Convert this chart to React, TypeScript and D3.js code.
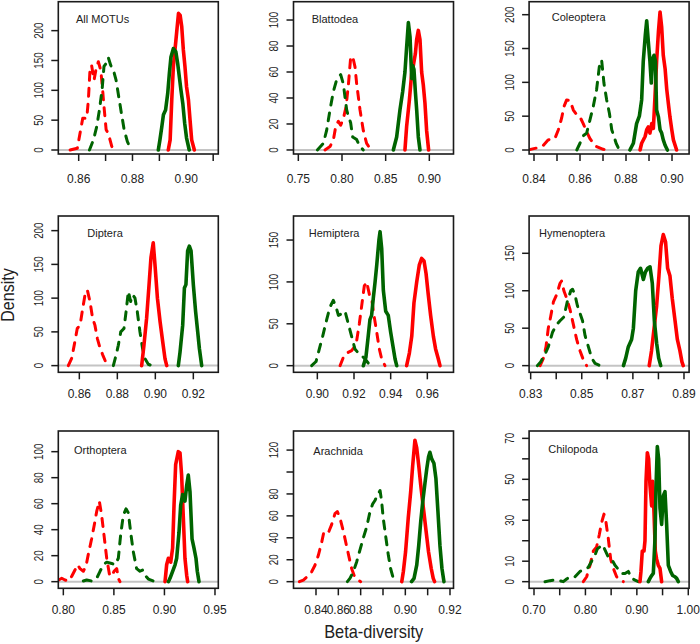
import React from "react";
import * as d3 from "d3";

type Pt = [number, number];

// ---------- DATA (x = beta-diversity, y = density) ----------
const panelNames = ["All MOTUs", "Blattodea", "Coleoptera", "Diptera", "Hemiptera", "Hymenoptera", "Orthoptera", "Arachnida", "Chilopoda"];

// series order in every panel: red dashed, green dashed, red solid, green solid
const allMotusCurves: Pt[][] = [
  [[0.8568,0],[0.8595,3],[0.8605,28],[0.8615,53],[0.8630,53],[0.8636,84],[0.8642,134],[0.8648,142],[0.8657,117],[0.8664,134],[0.8673,148],[0.8682,134],[0.8688,106],[0.8694,73],[0.8702,34],[0.8710,28],[0.8723,6],[0.8735,0]],
  [[0.8640,0],[0.8655,17],[0.8667,39],[0.8677,67],[0.8687,101],[0.8694,140],[0.8702,145],[0.8710,155],[0.8719,142],[0.8729,134],[0.8739,117],[0.8749,89],[0.8759,61],[0.8769,34],[0.8781,14],[0.8793,3],[0.8801,0]],
  [[0.8933,0],[0.8940,17],[0.8946,84],[0.8952,140],[0.8958,168],[0.8964,196],[0.8971,229],[0.8977,226],[0.8983,207],[0.8989,168],[0.8995,140],[0.9001,106],[0.9008,84],[0.9014,50],[0.9020,17],[0.9030,0]],
  [[0.8896,0],[0.8902,17],[0.8909,39],[0.8915,59],[0.8923,67],[0.8931,95],[0.8937,128],[0.8943,156],[0.8952,170],[0.8961,165],[0.8968,145],[0.8974,123],[0.8980,101],[0.8987,78],[0.8994,45],[0.9001,20],[0.9011,0]],
];
const blattodeaCurves: Pt[][] = [
  [[0.7805,0],[0.7863,2.6],[0.7901,7.7],[0.7931,19],[0.7958,22],[0.7985,19],[0.8015,24],[0.8046,33],[0.8073,50],[0.8099,71],[0.8122,72],[0.8149,64],[0.8168,51],[0.8206,31],[0.8244,15],[0.8282,5],[0.8321,1.3],[0.8359,0]],
  [[0.7718,0],[0.7786,5],[0.7824,15],[0.7863,31],[0.7901,45],[0.7939,54],[0.7985,58],[0.8015,51],[0.8034,41],[0.8053,31],[0.8073,26],[0.8099,21],[0.8122,10],[0.8168,8],[0.8206,2.6],[0.8244,0]],
  [[0.8721,0],[0.8740,18],[0.8771,38],[0.8798,59],[0.8817,65],[0.8840,74],[0.8855,85],[0.8874,92],[0.8893,85],[0.8912,60],[0.8931,50],[0.8950,36],[0.8969,15],[0.8992,0]],
  [[0.8588,0],[0.8626,10],[0.8664,31],[0.8695,45],[0.8721,60],[0.8740,79],[0.8760,98],[0.8779,87],[0.8798,55],[0.8809,65],[0.8824,62],[0.8840,45],[0.8855,31],[0.8874,10],[0.8893,0]],
];
const coleopteraCurves: Pt[][] = [
  [[0.8375,0],[0.8412,3],[0.8441,7],[0.8462,15],[0.8491,17],[0.8506,30],[0.8520,47],[0.8530,64],[0.8542,74],[0.8557,73],[0.8571,59],[0.8586,52],[0.8600,49],[0.8614,39],[0.8629,27],[0.8643,17],[0.8658,10],[0.8672,5],[0.8701,1],[0.8730,0]],
  [[0.8586,0],[0.8600,10],[0.8614,21],[0.8629,25],[0.8643,44],[0.8658,65],[0.8672,89],[0.8684,123],[0.8694,133],[0.8704,99],[0.8716,74],[0.8728,54],[0.8738,30],[0.8748,20],[0.8757,10],[0.8771,0]],
  [[0.8861,0],[0.8868,10],[0.8883,20],[0.8890,30],[0.8897,34],[0.8904,25],[0.8912,39],[0.8919,32],[0.8926,79],[0.8933,131],[0.8941,175],[0.8948,204],[0.8955,182],[0.8962,140],[0.8970,120],[0.8977,90],[0.8984,69],[0.8991,49],[0.8999,30],[0.9006,15],[0.9020,0]],
  [[0.8817,0],[0.8832,10],[0.8846,39],[0.8858,50],[0.8868,74],[0.8875,131],[0.8884,170],[0.8890,191],[0.8897,160],[0.8904,131],[0.8910,99],[0.8916,135],[0.8922,140],[0.8928,131],[0.8933,59],[0.8941,49],[0.8948,30],[0.8955,25],[0.8962,15],[0.8970,7],[0.8980,0]],
];
const dipteraCurves: Pt[][] = [
  [[0.8542,0],[0.8560,11],[0.8577,36],[0.8589,55],[0.8604,60],[0.8618,85],[0.8630,105],[0.8642,112],[0.8656,95],[0.8670,70],[0.8682,60],[0.8695,40],[0.8709,26],[0.8723,16],[0.8735,8],[0.8747,0]],
  [[0.8779,0],[0.8793,15],[0.8805,30],[0.8818,50],[0.8835,55],[0.8846,80],[0.8858,110],[0.8870,95],[0.8881,105],[0.8893,100],[0.8905,80],[0.8919,50],[0.8933,25],[0.8946,10],[0.8963,2],[0.8981,0]],
  [[0.8928,0],[0.8940,30],[0.8954,70],[0.8967,120],[0.8977,160],[0.8989,182],[0.8998,150],[0.9011,100],[0.9025,65],[0.9039,35],[0.9051,10],[0.9060,0]],
  [[0.9121,0],[0.9130,20],[0.9144,60],[0.9153,115],[0.9161,120],[0.9170,170],[0.9179,177],[0.9188,170],[0.9200,120],[0.9212,80],[0.9223,50],[0.9232,25],[0.9244,0]],
];
const hemipteraCurves: Pt[][] = [
  [[0.9124,0],[0.9142,10],[0.9160,15],[0.9187,18],[0.9211,25],[0.9229,50],[0.9244,75],[0.9256,95],[0.9269,100],[0.9284,85],[0.9296,80],[0.9309,60],[0.9324,40],[0.9338,20],[0.9351,8],[0.9369,0]],
  [[0.8969,0],[0.8993,5],[0.9011,20],[0.9029,35],[0.9051,55],[0.9069,70],[0.9087,78],[0.9102,70],[0.9115,60],[0.9133,62],[0.9151,65],[0.9169,50],[0.9187,35],[0.9205,20],[0.9224,15],[0.9242,12],[0.9260,8],[0.9278,3],[0.9296,0]],
  [[0.9487,0],[0.9502,15],[0.9515,35],[0.9527,75],[0.9542,100],[0.9556,120],[0.9569,128],[0.9582,125],[0.9593,110],[0.9605,85],[0.9618,60],[0.9633,35],[0.9645,20],[0.9660,8],[0.9669,0]],
  [[0.9251,0],[0.9265,10],[0.9275,30],[0.9287,55],[0.9296,60],[0.9305,80],[0.9315,100],[0.9324,120],[0.9336,150],[0.9342,160],[0.9351,140],[0.9360,90],[0.9373,65],[0.9387,60],[0.9400,40],[0.9415,20],[0.9424,8],[0.9433,0]],
];
const hymenopteraCurves: Pt[][] = [
  [[0.8337,0],[0.8350,10],[0.8360,25],[0.8369,50],[0.8378,65],[0.8389,85],[0.8402,95],[0.8415,110],[0.8421,113],[0.8430,100],[0.8441,90],[0.8454,75],[0.8467,55],[0.8480,35],[0.8493,20],[0.8506,8],[0.8519,0]],
  [[0.8326,0],[0.8339,5],[0.8356,15],[0.8369,25],[0.8386,45],[0.8402,55],[0.8415,60],[0.8430,65],[0.8443,85],[0.8457,100],[0.8464,102],[0.8473,95],[0.8483,80],[0.8493,70],[0.8503,60],[0.8513,40],[0.8526,25],[0.8539,10],[0.8552,3],[0.8571,0]],
  [[0.8764,0],[0.8773,20],[0.8783,50],[0.8793,80],[0.8802,120],[0.8810,160],[0.8819,175],[0.8828,165],[0.8836,130],[0.8845,120],[0.8854,90],[0.8865,60],[0.8874,35],[0.8884,20],[0.8892,5],[0.8897,0]],
  [[0.8663,0],[0.8672,10],[0.8682,25],[0.8695,35],[0.8702,50],[0.8711,100],[0.8721,125],[0.8730,130],[0.8741,115],[0.8749,125],[0.8758,130],[0.8767,132],[0.8776,110],[0.8784,60],[0.8793,30],[0.8801,10],[0.8809,0]],
];
const orthopteraCurves: Pt[][] = [
  [[0.7954,1.3],[0.7984,2.6],[0.8016,1.3],[0.8049,0.5],[0.8082,4],[0.8115,9],[0.8142,13],[0.8165,10],[0.8198,8],[0.8224,12],[0.8247,21],[0.8280,33],[0.8307,44],[0.8330,54],[0.8356,62],[0.8379,51],[0.8402,36],[0.8429,18],[0.8455,6],[0.8478,4],[0.8501,8],[0.8528,10],[0.8544,2.6],[0.8560,0]],
  [[0.8198,0.5],[0.8231,1.3],[0.8280,0.5],[0.8330,2.6],[0.8363,8],[0.8396,13],[0.8429,15],[0.8478,14],[0.8511,13],[0.8544,18],[0.8567,36],[0.8593,51],[0.8620,56],[0.8643,53],[0.8666,38],[0.8692,23],[0.8725,10],[0.8758,8],[0.8785,9],[0.8808,5],[0.8841,2],[0.8890,0.5],[0.8923,0]],
  [[0.9006,0],[0.9022,13],[0.9039,18],[0.9062,15],[0.9081,26],[0.9095,59],[0.9111,90],[0.9137,100],[0.9154,99],[0.9170,82],[0.9187,49],[0.9203,18],[0.9220,5],[0.9230,0]],
  [[0.9039,0],[0.9055,2.6],[0.9081,8],[0.9105,13],[0.9121,18],[0.9144,38],[0.9161,59],[0.9180,67],[0.9203,62],[0.9220,74],[0.9236,82],[0.9253,69],[0.9273,33],[0.9292,26],[0.9312,18],[0.9325,8],[0.9342,0]],
];
const arachnidaCurves: Pt[][] = [
  [[0.8251,0],[0.8287,1.5],[0.8322,4.6],[0.8361,9],[0.8391,15],[0.8421,24],[0.8451,36],[0.8472,46],[0.8496,47],[0.8516,46],[0.8540,52],[0.8570,62],[0.8591,64],[0.8615,58],[0.8645,46],[0.8675,32],[0.8699,21],[0.8719,12],[0.8740,6],[0.8764,2.4],[0.8800,0]],
  [[0.8681,0],[0.8704,3],[0.8734,9],[0.8764,18],[0.8794,29],[0.8812,40],[0.8827,50],[0.8842,64],[0.8854,71],[0.8864,74],[0.8875,79],[0.8887,83],[0.8894,73],[0.8901,58],[0.8913,40],[0.8924,24],[0.8934,12],[0.8946,3],[0.8954,0]],
  [[0.8984,0],[0.8991,9],[0.9001,27],[0.9013,58],[0.9024,82],[0.9033,106],[0.9043,129],[0.9051,122],[0.9060,106],[0.9069,88],[0.9081,67],[0.9093,46],[0.9104,27],[0.9116,12],[0.9125,3],[0.9131,0]],
  [[0.9028,0],[0.9039,3],[0.9051,15],[0.9060,33],[0.9069,55],[0.9078,73],[0.9088,90],[0.9096,103],[0.9104,114],[0.9110,118],[0.9118,112],[0.9128,108],[0.9137,94],[0.9146,64],[0.9155,33],[0.9164,12],[0.9173,0]],
];
const chilopodaCurves: Pt[][] = [
  [[0.7959,0],[0.8024,2.4],[0.8089,8],[0.8154,15],[0.8218,17],[0.8270,23],[0.8316,29],[0.8361,33],[0.8400,29],[0.8445,21],[0.8491,11],[0.8542,6.5],[0.8607,2.4],[0.8672,0.8],[0.8737,0]],
  [[0.7214,0],[0.7311,0.5],[0.7408,0.8],[0.7473,0.7],[0.7570,0],[0.7635,1.3],[0.7700,2.4],[0.7797,2.4],[0.7894,5],[0.7992,6],[0.8056,7],[0.8121,10],[0.8186,13],[0.8231,16],[0.8283,17],[0.8335,18],[0.8380,15.5],[0.8445,12],[0.8510,11],[0.8575,8],[0.8640,6],[0.8704,4],[0.8769,4],[0.8834,5],[0.8899,1.6],[0.8964,0.8],[0.9029,0]],
  [[0.9061,0],[0.9080,5],[0.9106,15],[0.9139,15],[0.9158,20],[0.9178,49],[0.9204,63],[0.9229,60],[0.9255,47],[0.9288,37],[0.9307,49],[0.9333,34],[0.9359,15],[0.9385,11],[0.9417,8],[0.9450,6.5],[0.9482,0]],
  [[0.9223,0],[0.9255,1.6],[0.9288,3],[0.9320,4],[0.9353,21],[0.9372,46],[0.9398,66],[0.9424,60],[0.9450,36],[0.9482,28],[0.9515,42],[0.9547,44],[0.9579,28],[0.9612,8],[0.9657,5],[0.9696,3],[0.9741,2.4],[0.9774,1.6],[0.9806,0]],
];
const panelCurves: Pt[][][] = [allMotusCurves, blattodeaCurves, coleopteraCurves, dipteraCurves, hemipteraCurves, hymenopteraCurves, orthopteraCurves, arachnidaCurves, chilopodaCurves];

const xDomains: [number, number][] = [
  [0.85242, 0.9119], [0.74447, 0.92768], [0.83787, 0.90743],
  [0.84893, 0.93314], [0.887, 0.97427], [0.82939, 0.892],
  [0.79502, 0.95328], [0.81985, 0.92157], [0.69047, 1.0016],
];
const yDomains: [number, number][] = [
  [-6.7, 248.5], [-3.1, 114.1], [-5.9, 219.2],
  [-9.9, 221.7], [-7.9, 178.7], [-8.9, 199.8],
  [-5.1, 115.9], [-6.05, 137.4], [-3.24, 73.6],
];
const xTicks: number[][] = [
  [0.86, 0.87, 0.88, 0.89, 0.90, 0.91],
  [0.75, 0.80, 0.85, 0.90],
  [0.84, 0.85, 0.86, 0.87, 0.88, 0.89, 0.90],
  [0.86, 0.88, 0.90, 0.92],
  [0.90, 0.92, 0.94, 0.96],
  [0.83, 0.84, 0.85, 0.86, 0.87, 0.88, 0.89],
  [0.80, 0.85, 0.90, 0.95],
  [0.84, 0.86, 0.88, 0.89, 0.90, 0.91, 0.92],
  [0.70, 0.75, 0.80, 0.85, 0.90, 0.95, 1.00],
];
const xLabelled: number[][] = [
  [0.86, 0.88, 0.90],
  [0.75, 0.80, 0.85, 0.90],
  [0.84, 0.86, 0.88, 0.90],
  [0.86, 0.88, 0.90, 0.92],
  [0.90, 0.92, 0.94, 0.96],
  [0.83, 0.85, 0.87, 0.89],
  [0.80, 0.85, 0.90, 0.95],
  [0.84, 0.86, 0.88, 0.90, 0.92],
  [0.70, 0.80, 0.90, 1.00],
];
// panels whose printed x ticks are evenly spaced although their values are not
const xEvenTicks: boolean[] = [false, false, false, false, false, false, false, true, false];
const yTicks: number[][] = [
  [0, 50, 100, 150, 200], [0, 20, 40, 60, 80, 100], [0, 50, 100, 150, 200],
  [0, 50, 100, 150, 200], [0, 50, 100, 150], [0, 50, 100, 150],
  [0, 20, 40, 60, 80, 100], [0, 20, 40, 60, 80, 100, 120], [0, 10, 20, 30, 40, 50, 60, 70],
];
const yLabelled: number[][] = [
  [0, 50, 100, 150, 200], [0, 20, 40, 60, 80, 100], [0, 50, 100, 150, 200],
  [0, 50, 100, 150, 200], [0, 50, 100, 150], [0, 50, 100, 150],
  [0, 20, 40, 60, 80, 100], [0, 20, 40, 60, 80, 120], [0, 10, 30, 50, 70],
];

// ---------- LAYOUT / STYLE ----------
const W = 700, H = 644;
const colLeft = [58.3, 293.5, 529.1];
const boxW = 160;
const rowTop = [1.7, 216, 431];
const rowBottom = [154, 372.3, 588.3];
const xLabelBase = [28.5, 25.5, 26];
const titleDx = [17.7, 18.2, 22.6, 29, 15.2, 9.9, 15.7, 19.8, 19.2];
const titleDy = [21, 21, 19, 20.7, 20.7, 21.3, 23, 24, 22.3];
const seriesStyle = [
  { color: "#FF0000", dash: "8 8", width: 3 },
  { color: "#006400", dash: "8 8", width: 3 },
  { color: "#FF0000", dash: null, width: 3.6 },
  { color: "#006400", dash: null, width: 3.6 },
];
const FONT = "'Liberation Sans', Arial, Helvetica, sans-serif";
const TXT = "#222";
const near = (a: number, b: number) => Math.abs(a - b) < 1e-9;

function Panel({ i }: { i: number }) {
  const col = i % 3, row = Math.floor(i / 3);
  const left = colLeft[col], right = left + boxW;
  const top = rowTop[row], bottom = rowBottom[row];
  const [x0, x1] = xDomains[i];
  let x: (v: number) => number;
  if (xEvenTicks[i]) {
    const idx = d3.scaleLinear().domain(xTicks[i]).range(xTicks[i].map((_, k) => k));
    const px = d3.scaleLinear().domain([idx(x0), idx(x1)]).range([left, right]);
    x = (v) => px(idx(v));
  } else {
    const s = d3.scaleLinear().domain([x0, x1]).range([left, right]);
    x = (v) => s(v);
  }
  const y = d3.scaleLinear().domain(yDomains[i]).range([bottom, top]);
  const line = d3.line<Pt>().x((d) => x(d[0])).y((d) => y(d[1]));
  const clipId = `clip${i}`;
  return (
    <g>
      <clipPath id={clipId}>
        <rect x={left} y={top} width={right - left} height={bottom - top} />
      </clipPath>
      <line x1={left} x2={right} y1={y(0)} y2={y(0)} stroke="#C4C4C4" strokeWidth={2} />
      <g clipPath={`url(#${clipId})`}>
        {panelCurves[i].map((pts, k) => (
          <path key={k} d={line(pts) || ""} fill="none" stroke={seriesStyle[k].color}
            strokeWidth={seriesStyle[k].width} strokeDasharray={seriesStyle[k].dash || undefined}
            strokeLinecap="round" strokeLinejoin="round" />
        ))}
      </g>
      <rect x={left} y={top} width={right - left} height={bottom - top} fill="none" stroke="#1a1a1a" strokeWidth={1.6} />
      {xTicks[i].map((t) => (
        <line key={"xt" + t} x1={x(t)} x2={x(t)} y1={bottom} y2={bottom + 7} stroke="#1a1a1a" strokeWidth={1.5} />
      ))}
      {xLabelled[i].map((t) => (
        <text key={"xl" + t} x={x(t)} y={bottom + xLabelBase[row]} textAnchor="middle" fontSize={12}
          fontFamily={FONT} fill={TXT}>{t.toFixed(2)}</text>
      ))}
      {yTicks[i].map((t) => (
        <line key={"yt" + t} x1={left - 7} x2={left} y1={y(t)} y2={y(t)} stroke="#1a1a1a" strokeWidth={1.5} />
      ))}
      {yTicks[i].filter((t) => yLabelled[i].some((u) => near(u, t))).map((t) => (
        <text key={"yl" + t} transform={`translate(${left - 15.3},${y(t)}) rotate(-90) scale(0.82,1)`}
          textAnchor="middle" fontSize={12} fontFamily={FONT} fill={TXT}>{String(t)}</text>
      ))}
      <text x={left + titleDx[i]} y={top + titleDy[i]} fontSize={11} fontFamily={FONT} fill={TXT}>{panelNames[i]}</text>
    </g>
  );
}

export default function App() {
  return (
    <svg width={W} height={H} viewBox={`0 0 ${W} ${H}`}
      style={{ position: "absolute", left: 0, top: 0, background: "#fff", display: "block" }}>
      <rect x={0} y={0} width={W} height={H} fill="#fff" />
      {panelNames.map((_, i) => <Panel key={i} i={i} />)}
      <text transform={`translate(14.3,295) rotate(-90) scale(0.92,1)`} textAnchor="middle" fontSize={17.5}
        fontFamily={FONT} fill={TXT}>Density</text>
      <text transform={`translate(373.7,638) scale(0.9,1)`} textAnchor="middle" fontSize={18.2}
        fontFamily={FONT} fill={TXT}>Beta-diversity</text>
    </svg>
  );
}
